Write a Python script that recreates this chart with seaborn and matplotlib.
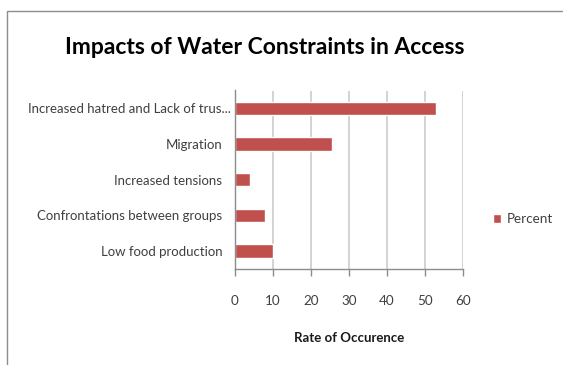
import matplotlib
matplotlib.use("Agg")
import matplotlib.pyplot as plt
from matplotlib.patches import Rectangle
from matplotlib.transforms import ScaledTranslation
import seaborn as sns
import pandas as pd

# Survey responses: impacts of water access constraints
impacts = [
    "Increased hatred and Lack of trus...",
    "Migration",
    "Increased tensions",
    "Confrontations between groups",
    "Low food production",
]
percent = [53, 25.5, 4, 8, 10]
x_ticks = [0, 10, 20, 30, 40, 50, 60]

df = pd.DataFrame({"Impact": impacts, "Percent": percent})

sns.set_theme(style="white")
plt.rcParams["font.family"] = ["Lato", "DejaVu Sans"]

fig = plt.figure(figsize=(5.63, 3.65), dpi=100)
ax = fig.add_axes([234.7 / 563, 1 - 269 / 365, (463 - 234.7) / 563, (269 - 90.5) / 365])

sns.barplot(data=df, x="Percent", y="Impact", color="#C0504D", width=0.375,
            saturation=1, label="Percent", ax=ax)

ax.set_xlim(0, 60)
ax.set_xticks(x_ticks)
ax.set_xticklabels([str(t) for t in x_ticks])
ax.xaxis.grid(True, color="#c8c8c8", linewidth=1.1)
ax.set_axisbelow(True)

for side in ("top", "right"):
    ax.spines[side].set_visible(False)
for side in ("left", "bottom"):
    ax.spines[side].set_color("#8c8c8c")
    ax.spines[side].set_linewidth(1)

ax.tick_params(axis="x", which="both", bottom=True, length=5, width=1,
               color="#8c8c8c", labelsize=9.7, labelcolor="#404040", pad=14)
ax.tick_params(axis="y", length=0, labelsize=9.5, labelcolor="#404040", pad=9)

# the truncated long label sits a little closer to the axis
first = ax.get_yticklabels()[0]
first.set_transform(first.get_transform() + ScaledTranslation(9 / 100, 0, fig.dpi_scale_trans))

ax.set_ylabel("")
ax.set_xlabel("Rate of Occurence", fontsize=9.5, fontweight="bold",
              color="#1a1a1a", labelpad=18)

fig.text(265 / 563, 1 - 48 / 365, "Impacts of Water Constraints in Access",
         ha="center", va="center", fontsize=16.5, fontweight="bold", color="#000000")

leg = ax.legend(loc="center left", bbox_to_anchor=(493 / 563, 1 - 219 / 365),
                bbox_transform=fig.transFigure, frameon=False, fontsize=9.7,
                handlelength=0.6, handleheight=0.6, handletextpad=0.4,
                borderaxespad=0, borderpad=0)
for t in leg.get_texts():
    t.set_color("#404040")

# chart frame
fig.add_artist(Rectangle((7 / 563, -0.1), 1.2, 1.1 - 11 / 365,
                         transform=fig.transFigure, fill=False,
                         edgecolor="#8c8c8c", linewidth=1))

fig.savefig("out.png", dpi=100, facecolor="white")
